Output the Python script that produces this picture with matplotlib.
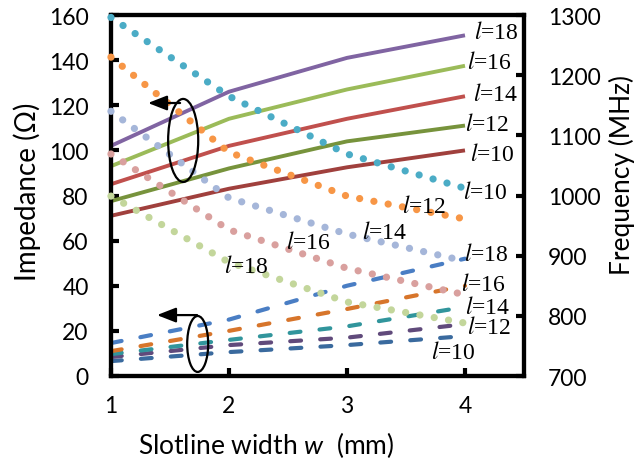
import matplotlib
matplotlib.use("Agg")
import matplotlib.pyplot as plt
from matplotlib.patches import Ellipse

plt.rcParams['font.family'] = ['Lato', 'DejaVu Sans']
plt.rcParams['mathtext.fontset'] = 'custom'
plt.rcParams['mathtext.it'] = 'Lato:italic'
plt.rcParams['mathtext.rm'] = 'Lato'

w = [1, 2, 3, 4]
lengths = [10, 12, 14, 16, 18]

# impedance, solid lines (left axis)
imp_solid = {
    10: [71, 83, 92.5, 100],
    12: [77.5, 92, 104, 111],
    14: [85, 102, 114, 124],
    16: [93, 114, 127, 137.5],
    18: [102, 126, 141, 151],
}
# impedance, dashed lines (left axis)
imp_dash = {
    10: [6.6, 10.6, 13.7, 17.7],
    12: [8.4, 13.7, 17, 23],
    14: [9.7, 16, 22, 30.6],
    16: [11, 20, 29.7, 40],
    18: [14.6, 25, 40, 52],
}
# frequency, dotted lines (right axis)
freq = {
    10: [1296, 1165, 1069, 1012],
    12: [1230, 1072, 999, 961],
    14: [1140, 996, 936, 891],
    16: [1069, 943, 879, 835],
    18: [999, 889, 823, 788],
}

solid_colors = {10: '#A0403D', 12: '#77933C', 14: '#C0504D', 16: '#9BBB59', 18: '#8064A2'}
dash_colors = {10: '#3A6A9E', 12: '#604A7B', 14: '#31959C', 16: '#D7752B', 18: '#4A7EC4'}
dot_colors = {10: '#4BACC6', 12: '#F79646', 14: '#A5B6D9', 16: '#D9A09E', 18: '#C3D69B'}

fig = plt.figure(figsize=(6.34, 4.64), dpi=100)
ax = fig.add_axes([0.175, 0.1875, 0.6515, 0.778])
ax2 = ax.twinx()

for l in lengths:
    ax.plot(w, imp_solid[l], color=solid_colors[l], lw=2.8, solid_capstyle='butt')
    ax.plot(w, imp_dash[l], color=dash_colors[l], lw=3.0,
            linestyle=(0, (2.6, 4.6)), dash_capstyle='round')
    ax2.plot(w, freq[l], color=dot_colors[l], lw=5.2, zorder=3, clip_on=False,
             linestyle=(0, (0.01, 2.0)), dash_capstyle='round')

ax.set_xlim(1, 4.5)
ax.set_ylim(0, 160)
ax2.set_ylim(700, 1300)
ax.set_xticks([1, 2, 3, 4])
ax.set_yticks(range(0, 161, 20))
ax2.set_yticks(range(700, 1301, 100))

for a in (ax, ax2):
    for s in a.spines.values():
        s.set_linewidth(3)
ax.tick_params(axis='both', direction='in', length=6, width=3, labelsize=16.5)
ax.tick_params(axis='x', pad=14)
ax.tick_params(axis='y', pad=16)
ax2.tick_params(axis='y', direction='in', length=6, width=3, labelsize=16.5, pad=17)

# axis titles, placed as in the original (not centred on the axes)
fig.text(266 / 634, 1 - 445 / 464, 'Slotline width $w$  (mm)', fontsize=19,
         ha='center', va='center')
fig.text(27 / 634, 1 - 192 / 464, 'Impedance (\u03a9)', fontsize=20,
         rotation=90, ha='center', va='center')
fig.text(622 / 634, 1 - 175 / 464, 'Frequency (MHz)', fontsize=19,
         rotation=90, ha='center', va='center')

# curve labels
lab_kw = dict(fontsize=17, family='Liberation Serif', math_fontfamily='stix',
              ha='left', va='center', transform=ax.transData, zorder=4)
solid_pos = {18: (4.08, 152.5), 16: (4.02, 139), 14: (4.07, 125), 12: (4.0, 111.7), 10: (4.04, 98.4)}
dot_pos = {10: (3.98, 81.6), 12: (3.47, 75.4), 14: (3.13, 63.8), 16: (2.48, 59.4), 18: (1.96, 48.8)}
dash_pos = {18: (3.99, 54), 16: (3.97, 40.8), 14: (4.0, 30.6), 12: (4.02, 21.8), 10: (3.71, 10.6)}
for pos in (solid_pos, dot_pos, dash_pos):
    for l, (x, y) in pos.items():
        ax2.text(x, y, r'$l$=%d' % l, **lab_kw)

# ellipses with arrows pointing to the left axis
arrow = dict(arrowstyle='-|>,head_length=1.15,head_width=0.45',
             color='black', lw=1.6, shrinkA=0, shrinkB=0)
ax2.add_patch(Ellipse((1.612, 104.4), 0.255, 36.8, transform=ax.transData,
                      fill=False, ec='black', lw=1.6, zorder=4))
ax2.annotate('', xy=(1.314, 121), xytext=(1.586, 121),
             xycoords=ax.transData, textcoords=ax.transData, arrowprops=arrow)
ax2.add_patch(Ellipse((1.735, 14.2), 0.178, 24.8, transform=ax.transData,
                      fill=False, ec='black', lw=1.6, zorder=4))
ax2.annotate('', xy=(1.39, 27), xytext=(1.73, 27),
             xycoords=ax.transData, textcoords=ax.transData, arrowprops=arrow)

fig.savefig('out.png', dpi=100)
